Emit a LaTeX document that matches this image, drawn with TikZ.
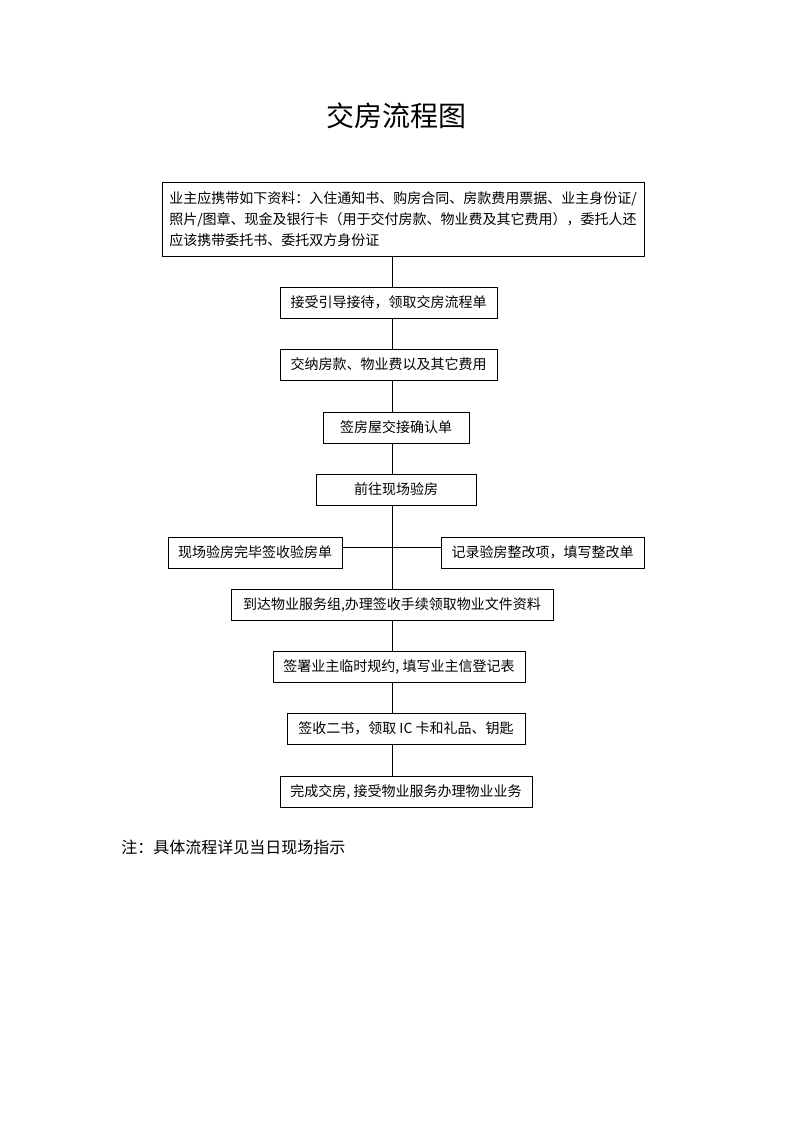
\documentclass[tikz,border=0pt]{standalone}
\usepackage{fontspec}
\newfontfamily\cjk{Noto Sans CJK SC}
\usetikzlibrary{positioning}

\begin{document}
\begin{tikzpicture}[x=0.75pt,y=0.75pt,yscale=-1,xscale=1,
	stepbox/.style={draw,line width=0.65pt,inner sep=3pt,minimum height=23.25pt,font=\cjk\fontsize{10.5}{15.75}\selectfont},
	link/.style={line width=0.65pt}]
	\useasboundingbox (0,0) rectangle (793,1122);

	% Title
	\node (title) at (396,116) [font=\cjk\fontsize{21}{25}\selectfont] {交房流程图};

	%Shape: Rectangle
	\node (papers) at (403,219) [stepbox,minimum width=361.5pt,minimum height=55.5pt,align=left] {业主应携带如下资料：入住通知书、购房合同、房款费用票据、业主身份证/\\照片/图章、现金及银行卡（用于交付房款、物业费及其它费用），委托人还\\应该携带委托书、委托双方身份证};
	\node (guide) at (388.5,302.5) [stepbox,minimum width=162.75pt] {接受引导接待，领取交房流程单};
	\node (pay) at (388.5,364.5) [stepbox,minimum width=162.75pt] {交纳房款、物业费以及其它费用};
	\node (confirm) at (396,427.5) [stepbox,minimum width=109.5pt] {签房屋交接确认单};
	\node (inspect) at (396,489.5) [stepbox,minimum width=120pt] {前往现场验房};
	\node (signoff) at (255,552.5) [stepbox,minimum width=130.5pt] {现场验房完毕签收验房单};
	\node (rectify) at (542.5,552.5) [stepbox,minimum width=152.25pt] {记录验房整改项，填写整改单};
	\node (service) at (392,604.5) [stepbox,minimum width=241.5pt] {到达物业服务组,办理签收手续领取物业文件资料};
	\node (rules) at (399,666.5) [stepbox,minimum width=189pt] {签署业主临时规约, 填写业主信登记表};
	\node (keys) at (406,728.5) [stepbox,minimum width=178.5pt] {签收二书，领取 IC 卡和礼品、钥匙};
	\node (done) at (406,791.5) [stepbox,minimum width=189pt] {完成交房, 接受物业服务办理物业业务};

	% Spine
	\coordinate (spine) at (392,0);
	\coordinate (fork) at (392,547);
	\draw [link] (papers.south -| spine) -- (guide.north -| spine);
	\draw [link] (guide.south -| spine) -- (pay.north -| spine);
	\draw [link] (pay.south -| spine) -- (confirm.north -| spine);
	\draw [link] (confirm.south -| spine) -- (inspect.north -| spine);
	\draw [link] (inspect.south -| spine) -- (service.north -| spine);
	\draw [link] (signoff.east |- fork) -- (rectify.west |- fork);
	\draw [link] (service.south -| spine) -- (rules.north -| spine);
	\draw [link] (rules.south -| spine) -- (keys.north -| spine);
	\draw [link] (keys.south -| spine) -- (done.north -| spine);

	% Text Node
	\node (note) at (121,847) [anchor=west,inner sep=0pt,font=\cjk\fontsize{12}{14}\selectfont] {注：具体流程详见当日现场指示};
\end{tikzpicture}
\end{document}
